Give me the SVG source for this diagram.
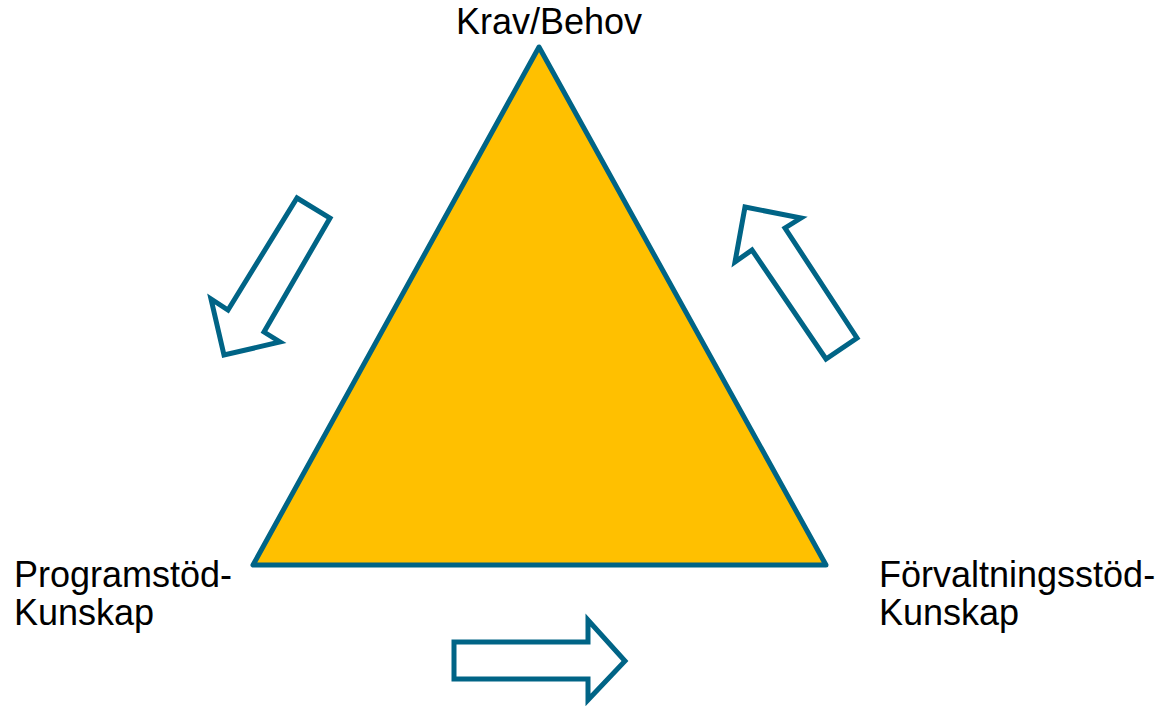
<svg xmlns="http://www.w3.org/2000/svg" width="1161" height="706" viewBox="0 0 1161 706">
<style>
.lbl{font-family:"Liberation Sans",Arial,sans-serif;font-size:36px;fill:#000}
.arr{fill:#fff;stroke:#006486;stroke-width:5;stroke-linejoin:miter}
</style>
<rect width="1161" height="706" fill="#fff"/>
<g id="triangle">
<polygon points="539,47 253,565 826,565" fill="#FFC000" stroke="#006486" stroke-width="5" stroke-linejoin="round"/>
</g>
<g id="label-top"><text class="lbl" x="549" y="34" text-anchor="middle">Krav/Behov</text></g>
<g id="label-left"><text class="lbl" x="14" y="587">Programstöd-</text><text class="lbl" x="14" y="625">Kunskap</text></g>
<g id="label-right"><text class="lbl" x="879" y="587">Förvaltningsstöd-</text><text class="lbl" x="879" y="625">Kunskap</text></g>
<g id="connectors">
<polygon class="arr" points="297,198 330,218 264,332 280,342 224,355 211,299 228,310"/>
<polygon class="arr" points="745,207 801,218 785,228 857,338 826,359 752,250 735,262"/>
<polygon class="arr" points="454,642 588,642 588,620 625,661 588,700 588,679 454,679"/>
</g>
</svg>
